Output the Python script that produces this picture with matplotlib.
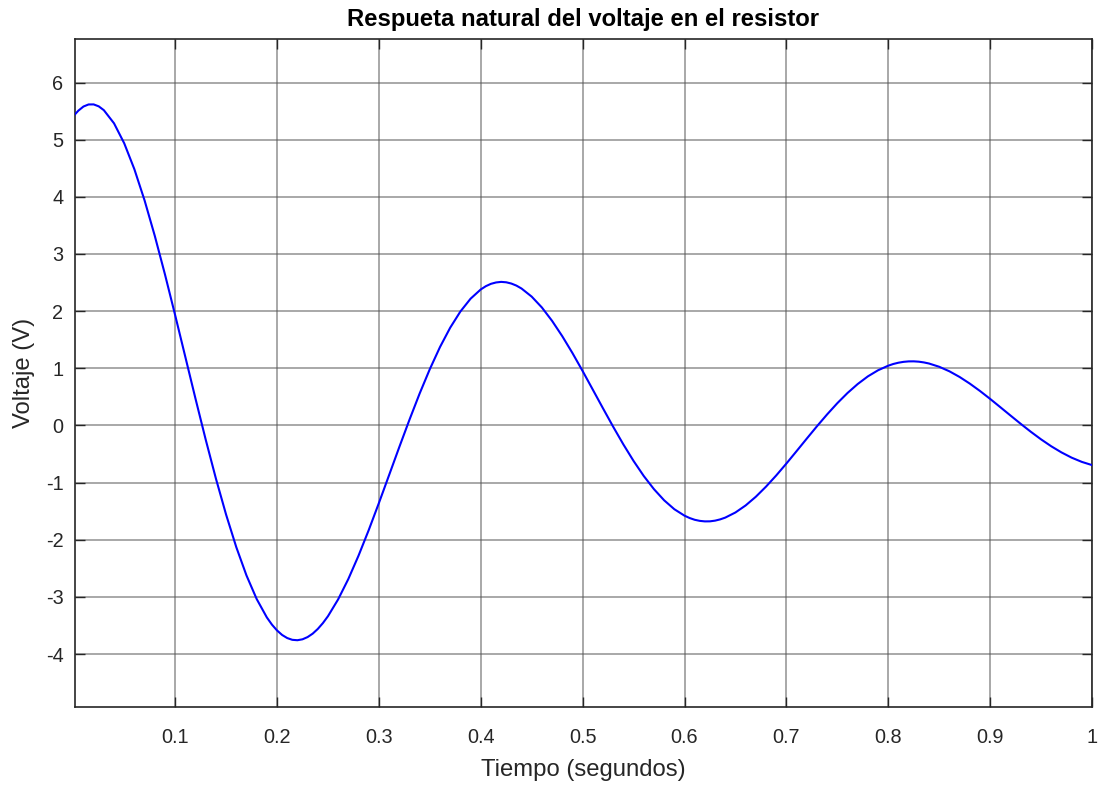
import matplotlib
matplotlib.use("Agg")
import matplotlib.pyplot as plt

# Values (time in s, voltage in V)
tiempo = [
    0.001, 0.005, 0.01, 0.015, 0.02, 0.025, 0.03, 0.04, 0.05, 0.06, 0.07, 0.08, 0.09,
    0.10, 0.11, 0.12, 0.13, 0.14, 0.15, 0.16, 0.17, 0.18, 0.19, 0.195,
    0.20, 0.205, 0.21, 0.215, 0.22, 0.225, 0.23, 0.235, 0.24, 0.245, 0.25,
    0.26, 0.27, 0.28, 0.29, 0.30, 0.31, 0.32, 0.33, 0.34, 0.35, 0.36, 0.37, 0.38, 0.39,
    0.40, 0.405, 0.41, 0.415, 0.42, 0.425, 0.43, 0.435, 0.44,
    0.45, 0.46, 0.47, 0.48, 0.49, 0.50, 0.51, 0.52, 0.53, 0.54, 0.55, 0.56, 0.57, 0.58, 0.59,
    0.60, 0.605, 0.61, 0.615, 0.62, 0.625, 0.63, 0.635, 0.64,
    0.65, 0.66, 0.67, 0.68, 0.69, 0.70, 0.71, 0.72, 0.73, 0.74, 0.75, 0.76, 0.77, 0.78, 0.79,
    0.80, 0.805, 0.81, 0.815, 0.82, 0.825, 0.83, 0.835, 0.84,
    0.85, 0.86, 0.87, 0.88, 0.89, 0.90, 0.91, 0.92, 0.93, 0.94, 0.95, 0.96, 0.97, 0.98, 0.99,
    1.00,
]
voltaje = [
    5.43, 5.508, 5.580, 5.616, 5.617, 5.583, 5.516, 5.286, 4.937, 4.482, 3.937, 3.318, 2.643,
    1.930, 1.199, 0.467, -0.248, -0.928, -1.559, -2.128, -2.623, -3.035, -3.358, -3.484,
    -3.586, -3.665, -3.719, -3.750, -3.757, -3.741, -3.702, -3.642, -3.560, -3.458, -3.337,
    -3.042, -2.686, -2.278, -1.831, -1.357, -0.869, -0.379, 0.100, 0.559, 0.986, 1.373, 1.711, 1.994, 2.218,
    2.380, 2.437, 2.478, 2.502, 2.512, 2.505, 2.483, 2.447, 2.396,
    2.254, 2.064, 1.830, 1.562, 1.267, 0.952, 0.626, 0.299, -0.023, -0.332, -0.621, -0.884, -1.114, -1.309, -1.465,
    -1.578, -1.619, -1.650, -1.669, -1.678, -1.677, -1.665, -1.643, -1.612,
    -1.522, -1.399, -1.247, -1.070, -0.875, -0.666, -0.449, -0.230, -0.014, 0.194, 0.390, 0.568, 0.725, 0.859, 0.966,
    1.046, 1.076, 1.098, 1.113, 1.121, 1.122, 1.116, 1.103, 1.084,
    1.027, 0.948, 0.849, 0.733, 0.604, 0.465, 0.320, 0.174, 0.029, -0.111, -0.243, -0.364, -0.471, -0.563, -0.637,
    -0.693,
]
xticks = [0.1, 0.2, 0.3, 0.4, 0.5, 0.6, 0.7, 0.8, 0.9, 1.0]
xticklabels = ["0.1", "0.2", "0.3", "0.4", "0.5", "0.6", "0.7", "0.8", "0.9", "1"]
yticks = [-4, -3, -2, -1, 0, 1, 2, 3, 4, 5, 6]
yticklabels = [str(v) for v in yticks]

plt.rcParams["font.family"] = ["Liberation Sans", "DejaVu Sans"]

fig = plt.figure(figsize=(11.01, 7.87), dpi=100)
ax = fig.add_axes([74.5 / 1101, 1 - 706.7 / 787, (1092 - 74.5) / 1101, (706.7 - 38.5) / 787])

ax.plot(tiempo, voltaje, color=(0, 0, 1), linewidth=1.5, zorder=3,
        solid_joinstyle="round", antialiased=True)

ax.set_xlim(0.0012, 1.0)
ax.set_ylim(-4.92, 6.77)
ax.set_xticks(xticks)
ax.set_xticklabels(xticklabels)
ax.set_yticks(yticks)
ax.set_yticklabels(yticklabels)

ax.grid(True, color="#555555", alpha=0.55, linewidth=1.3)
ax.set_axisbelow(True)
for s in ax.spines.values():
    s.set_color("#262626")
    s.set_linewidth(1.2)
ax.tick_params(direction="in", length=7, width=1.0, color="#262626",
               labelsize=14.3, labelcolor="#262626", top=True, right=True)
ax.tick_params(axis="x", pad=15)
ax.tick_params(axis="y", pad=8)

ax.set_title("Respueta natural del voltaje en el resistor", fontsize=17.2,
             fontweight="bold", color="black", pad=9)
ax.set_xlabel("Tiempo (segundos)", fontsize=17.2, color="#262626", labelpad=9)
ax.set_ylabel("Voltaje (V)", fontsize=17.2, color="#262626", labelpad=8)

fig.savefig("out.png", dpi=100)
